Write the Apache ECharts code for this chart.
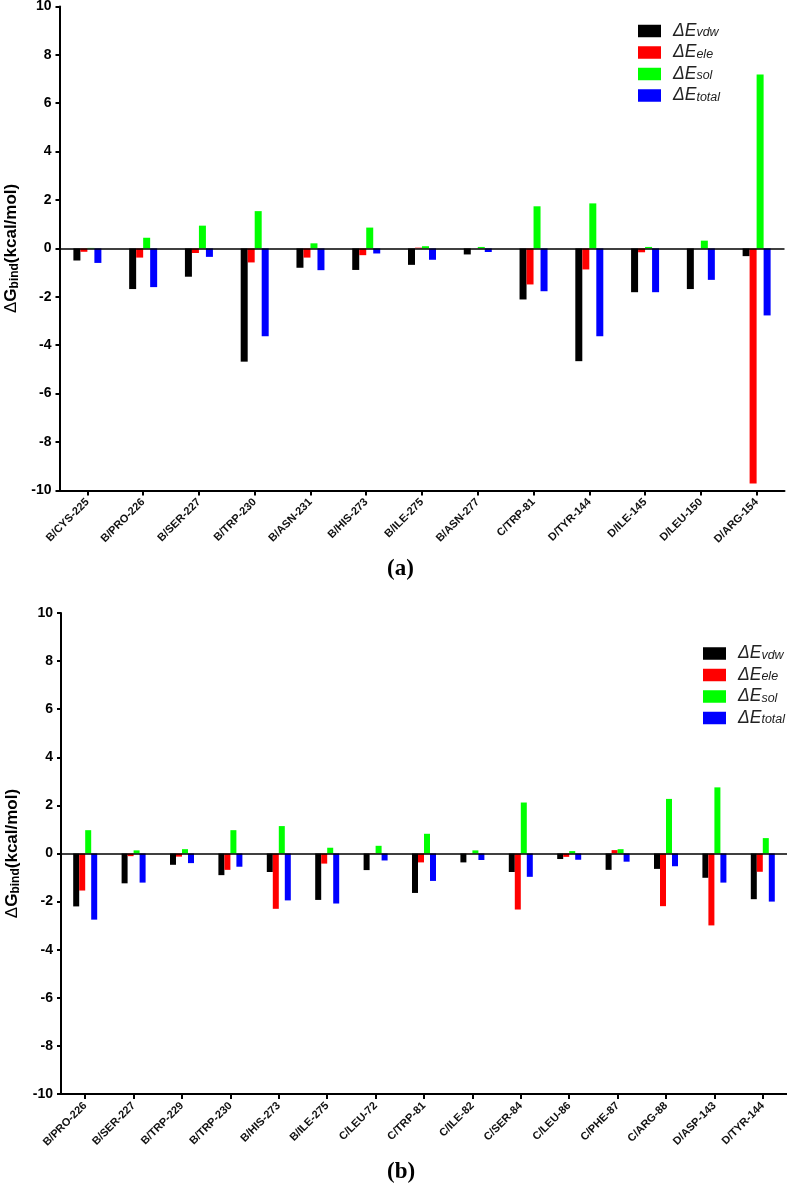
<!DOCTYPE html>
<html>
<head>
<meta charset="utf-8">
<script src="https://cdn.jsdelivr.net/npm/echarts@6/dist/echarts.min.js"></script>
<style>
html,body{margin:0;padding:0;background:#fff;}
#c{width:787px;height:1187px;}
</style>
</head>
<body>
<div id="c"></div>
<script>
// ---- data: panel (a) ----
const catsA = ['B/CYS-225','B/PRO-226','B/SER-227','B/TRP-230','B/ASN-231','B/HIS-273','B/ILE-275','B/ASN-277','C/TRP-81','D/TYR-144','D/ILE-145','D/LEU-150','D/ARG-154'];
const vdwA = [-0.50,-1.68,-1.17,-4.68,-0.80,-0.89,-0.68,-0.25,-2.11,-4.66,-1.81,-1.68,-0.32];
const eleA = [-0.14,-0.38,-0.19,-0.58,-0.38,-0.28,0.03,0.00,-1.49,-0.87,-0.16,0.00,-9.71];
const solA = [0.02,0.44,0.94,1.54,0.21,0.86,0.09,0.06,1.74,1.86,0.06,0.32,7.19];
const totA = [-0.60,-1.60,-0.35,-3.63,-0.90,-0.21,-0.47,-0.15,-1.77,-3.63,-1.81,-1.30,-2.77];
// ---- data: panel (b) ----
const catsB = ['B/PRO-226','B/SER-227','B/TRP-229','B/TRP-230','B/HIS-273','B/ILE-275','C/LEU-72','C/TRP-81','C/ILE-82','C/SER-84','C/LEU-86','C/PHE-87','C/ARG-88','D/ASP-143','D/TYR-144'];
const vdwB = [-2.20,-1.24,-0.47,-0.90,-0.77,-1.93,-0.69,-1.64,-0.37,-0.77,-0.23,-0.68,-0.64,-1.01,-1.90];
const eleB = [-1.54,-0.11,-0.13,-0.68,-2.30,-0.42,0.02,-0.37,0.01,-2.33,-0.14,0.14,-2.19,-2.99,-0.76];
const solB = [0.97,0.13,0.18,0.97,1.14,0.24,0.32,0.82,0.13,2.12,0.10,0.18,2.27,2.75,0.64];
const totB = [-2.75,-1.21,-0.40,-0.55,-1.95,-2.08,-0.29,-1.14,-0.27,-0.97,-0.26,-0.34,-0.53,-1.21,-2.00];
const seriesNames = ['vdw','ele','sol','total'];
const seriesColors = ['#000000','#ff0000','#00ff00','#0000ff'];
const yTicks = {min:-10, max:10, interval:2};

const FONT = '"Liberation Sans", Arial, sans-serif';
const chart = echarts.init(document.getElementById('c'), null, {renderer:'canvas'});

function xAxisFor(gridIndex, cats) {
  return {
    type:'category', gridIndex, data:cats,
    axisLine:{onZero:false, lineStyle:{color:'#000', width:2}},
    axisTick:{show:true, alignWithLabel:true, length:5, lineStyle:{color:'#000', width:2}},
    axisLabel:{interval:0, rotate:45, fontFamily:FONT, fontWeight:'bold', fontSize:11, color:'#111', margin:10},
    splitLine:{show:false}
  };
}
function yAxisFor(gridIndex) {
  return {
    type:'value', gridIndex, min:yTicks.min, max:yTicks.max, interval:yTicks.interval,
    axisLine:{show:true, lineStyle:{color:'#000', width:2}},
    axisTick:{show:true, length:4, lineStyle:{color:'#000', width:2}},
    axisLabel:{fontFamily:FONT, fontWeight:'bold', fontSize:14, color:'#000', margin:8},
    splitLine:{show:false},
    name:'{d|Δ}{g|G}{s|bind}{g|(kcal/mol)}',
    nameLocation:'middle', nameRotate:90, nameGap:39,
    nameTextStyle:{
      rich:{
        d:{fontFamily:FONT, fontSize:17, fontWeight:'normal', color:'#000', lineHeight:19},
        g:{fontFamily:FONT, fontSize:17, fontWeight:'bold', color:'#000', lineHeight:19},
        s:{fontFamily:FONT, fontSize:12, fontWeight:'bold', color:'#000', lineHeight:6, verticalAlign:'bottom'}
      }
    }
  };
}
function barSeries(gi, vals, k, bw, withZero) {
  const s = {
    type:'bar', name:seriesNames[k], xAxisIndex:gi, yAxisIndex:gi, data:vals,
    barWidth:bw, barGap:'0%', itemStyle:{color:seriesColors[k]}, silent:true,
    animation:false
  };
  if (withZero) {
    s.markLine = {silent:true, symbol:'none', label:{show:false},
      lineStyle:{color:'#000', width:1.6, type:'solid'}, data:[{yAxis:0}], animation:false};
  }
  return s;
}
function legendFor(left, top) {
  return {
    orient:'vertical', left, top, padding:0, itemWidth:23, itemHeight:12.5, itemGap:3.5,
    icon:'rect', selectedMode:false, data:seriesNames,
    formatter: n => '{d|ΔE}{s|' + n + '}',
    textStyle:{
      rich:{
        d:{fontFamily:FONT, fontStyle:'italic', fontSize:17.5, color:'#222', lineHeight:17, padding:[0,0,0,7]},
        s:{fontFamily:FONT, fontStyle:'italic', fontSize:12.5, color:'#222', lineHeight:6, verticalAlign:'bottom'}
      }
    }
  };
}

const option = {
  animation:false,
  backgroundColor:'#fff',
  title:[
    {text:'(a)', left:387, top:558, padding:0, textStyle:{fontFamily:'"Liberation Serif", "Times New Roman", serif', fontWeight:'bold', fontSize:23, color:'#000'}},
    {text:'(b)', left:387, top:1161, padding:0, textStyle:{fontFamily:'"Liberation Serif", "Times New Roman", serif', fontWeight:'bold', fontSize:23, color:'#000'}}
  ],
  legend:[legendFor(638, 22), legendFor(703, 644.5)],
  grid:[
    {left:59.5, top:6.4, width:725, height:484, containLabel:false, outerBoundsMode:'none'},
    {left:61, top:613, width:726, height:481, containLabel:false, outerBoundsMode:'none'}
  ],
  xAxis:[xAxisFor(0, catsA), xAxisFor(1, catsB)],
  yAxis:[yAxisFor(0), yAxisFor(1)],
  series:[
    barSeries(0, vdwA, 0, 7, true),
    barSeries(0, eleA, 1, 7, false),
    barSeries(0, solA, 2, 7, false),
    barSeries(0, totA, 3, 7, false),
    barSeries(1, vdwB, 0, 6, true),
    barSeries(1, eleB, 1, 6, false),
    barSeries(1, solB, 2, 6, false),
    barSeries(1, totB, 3, 6, false)
  ]
};
chart.setOption(option);
</script>
</body>
</html>
